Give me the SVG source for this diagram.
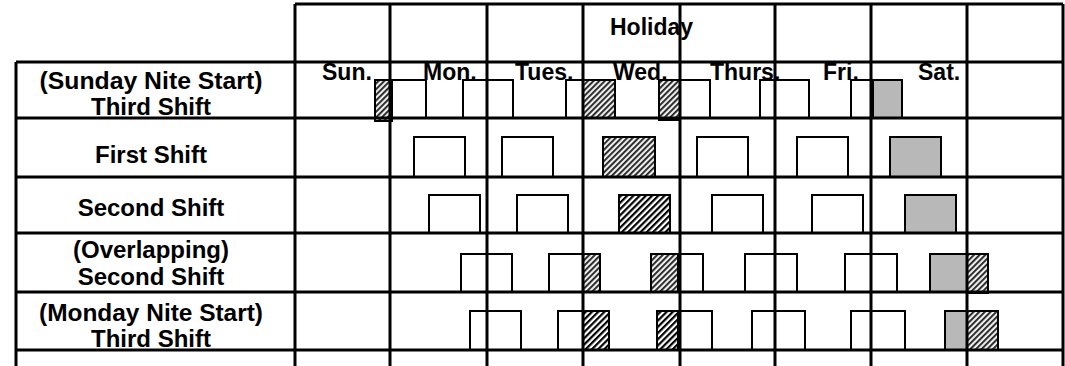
<svg xmlns="http://www.w3.org/2000/svg" width="1065" height="366" viewBox="0 0 1065 366">
<style>
text{font-family:"Liberation Sans",Arial,sans-serif;font-weight:bold;font-size:23px;fill:#000}
.lbl{text-anchor:middle;font-size:24px}
.g{stroke:#000;stroke-width:3;fill:none}
.w{fill:#fff;stroke:#000;stroke-width:2}
.gr{fill:#b8b8b8;stroke:#000;stroke-width:2}
.ha{fill:url(#hA);stroke:#000;stroke-width:2}
.hb{fill:url(#hB);stroke:#000;stroke-width:2}
</style>
<defs>
<pattern id="hA" patternUnits="userSpaceOnUse" width="4" height="4" patternTransform="rotate(45)">
<rect width="4" height="4" fill="#eeeeee"/>
<rect width="1.9" height="4" fill="#262626"/>
</pattern>
<pattern id="hB" patternUnits="userSpaceOnUse" width="4.4" height="4.4" patternTransform="rotate(45)">
<rect width="4.4" height="4.4" fill="#fff"/>
<rect width="2.2" height="4.4" fill="#000"/>
</pattern>
</defs>
<rect width="1065" height="366" fill="#fff"/>

<g id="row1-boxes">
<rect class="ha" x="375" y="80" width="17" height="41"/>
<rect class="w" x="392" y="80" width="34" height="38"/>
<rect class="w" x="463" y="80" width="50" height="38"/>
<rect class="w" x="566" y="80" width="17" height="38"/>
<rect class="ha" x="583" y="80" width="32" height="38"/>
<rect class="ha" x="659" y="80" width="21" height="40"/>
<rect class="w" x="680" y="80" width="30" height="38"/>
<rect class="w" x="760" y="80" width="49" height="38"/>
<rect class="w" x="851" y="80" width="22" height="38"/>
<rect class="gr" x="873" y="80" width="29" height="38"/>
</g>
<g id="row2-boxes">
<rect class="w" x="414" y="137" width="51" height="40"/>
<rect class="w" x="502" y="137" width="51" height="40"/>
<rect class="ha" x="603" y="137" width="52" height="40"/>
<rect class="w" x="697" y="137" width="51" height="40"/>
<rect class="w" x="797" y="137" width="51" height="40"/>
<rect class="gr" x="890" y="137" width="51" height="40"/>
</g>
<g id="row3-boxes">
<rect class="w" x="429" y="195" width="51" height="38"/>
<rect class="w" x="517" y="195" width="51" height="38"/>
<rect class="hb" x="619" y="195" width="51" height="38"/>
<rect class="w" x="712" y="195" width="51" height="38"/>
<rect class="w" x="812" y="195" width="51" height="38"/>
<rect class="gr" x="905" y="195" width="51" height="38"/>
</g>
<g id="row4-boxes">
<rect class="w" x="461" y="254" width="51" height="38"/>
<rect class="w" x="549" y="254" width="34" height="38"/>
<rect class="ha" x="583" y="254" width="17" height="38"/>
<rect class="ha" x="651" y="254" width="27" height="38"/>
<rect class="w" x="678" y="254" width="25" height="38"/>
<rect class="w" x="745" y="254" width="52" height="38"/>
<rect class="w" x="845" y="254" width="52" height="38"/>
<rect class="gr" x="930" y="254" width="37" height="38"/>
<rect class="ha" x="967" y="254" width="21" height="39"/>
</g>
<g id="row5-boxes">
<rect class="w" x="470" y="311" width="51" height="39"/>
<rect class="w" x="558" y="311" width="25" height="39"/>
<rect class="hb" x="583" y="311" width="26" height="39"/>
<rect class="hb" x="657" y="311" width="21" height="39"/>
<rect class="w" x="678" y="311" width="34" height="39"/>
<rect class="w" x="752" y="311" width="53" height="39"/>
<rect class="w" x="851" y="311" width="54" height="39"/>
<rect class="gr" x="945" y="311" width="22" height="39"/>
<rect class="ha" x="967" y="311" width="31" height="39"/>
</g>

<g id="grid" class="g">
<line x1="295" y1="4" x2="1063" y2="4"/>
<line x1="16" y1="62" x2="1063" y2="62"/>
<line x1="16" y1="118" x2="1063" y2="118"/>
<line x1="16" y1="177" x2="1063" y2="177"/>
<line x1="16" y1="233" x2="1063" y2="233"/>
<line x1="16" y1="292" x2="1063" y2="292"/>
<line x1="16" y1="350" x2="1063" y2="350"/>
<line x1="16" y1="62" x2="16" y2="366"/>
<line x1="295" y1="4" x2="295" y2="366"/>
<line x1="390" y1="4" x2="390" y2="366"/>
<line x1="487" y1="4" x2="487" y2="366"/>
<line x1="583" y1="4" x2="583" y2="366"/>
<line x1="680" y1="4" x2="680" y2="366"/>
<line x1="775" y1="4" x2="775" y2="366"/>
<line x1="871" y1="4" x2="871" y2="366"/>
<line x1="967" y1="4" x2="967" y2="366"/>
<line x1="1063" y1="4" x2="1063" y2="366"/>
</g>

<g id="header">
<text x="610" y="35">Holiday</text>
<text x="322" y="80">Sun.</text>
<text x="423" y="80">Mon.</text>
<text x="515" y="80">Tues.</text>
<text x="613" y="80">Wed.</text>
<text x="710" y="80">Thurs.</text>
<text x="823" y="80">Fri.</text>
<text x="918" y="80">Sat.</text>
</g>
<g id="row-labels">
<text class="lbl" x="151" y="89" textLength="223" lengthAdjust="spacingAndGlyphs">(Sunday Nite Start)</text>
<text class="lbl" x="151" y="115">Third Shift</text>
<text class="lbl" x="151" y="163">First Shift</text>
<text class="lbl" x="151" y="216">Second Shift</text>
<text class="lbl" x="151" y="258">(Overlapping)</text>
<text class="lbl" x="151" y="285">Second Shift</text>
<text class="lbl" x="151" y="321" textLength="224" lengthAdjust="spacingAndGlyphs">(Monday Nite Start)</text>
<text class="lbl" x="151" y="347">Third Shift</text>
</g>
</svg>
